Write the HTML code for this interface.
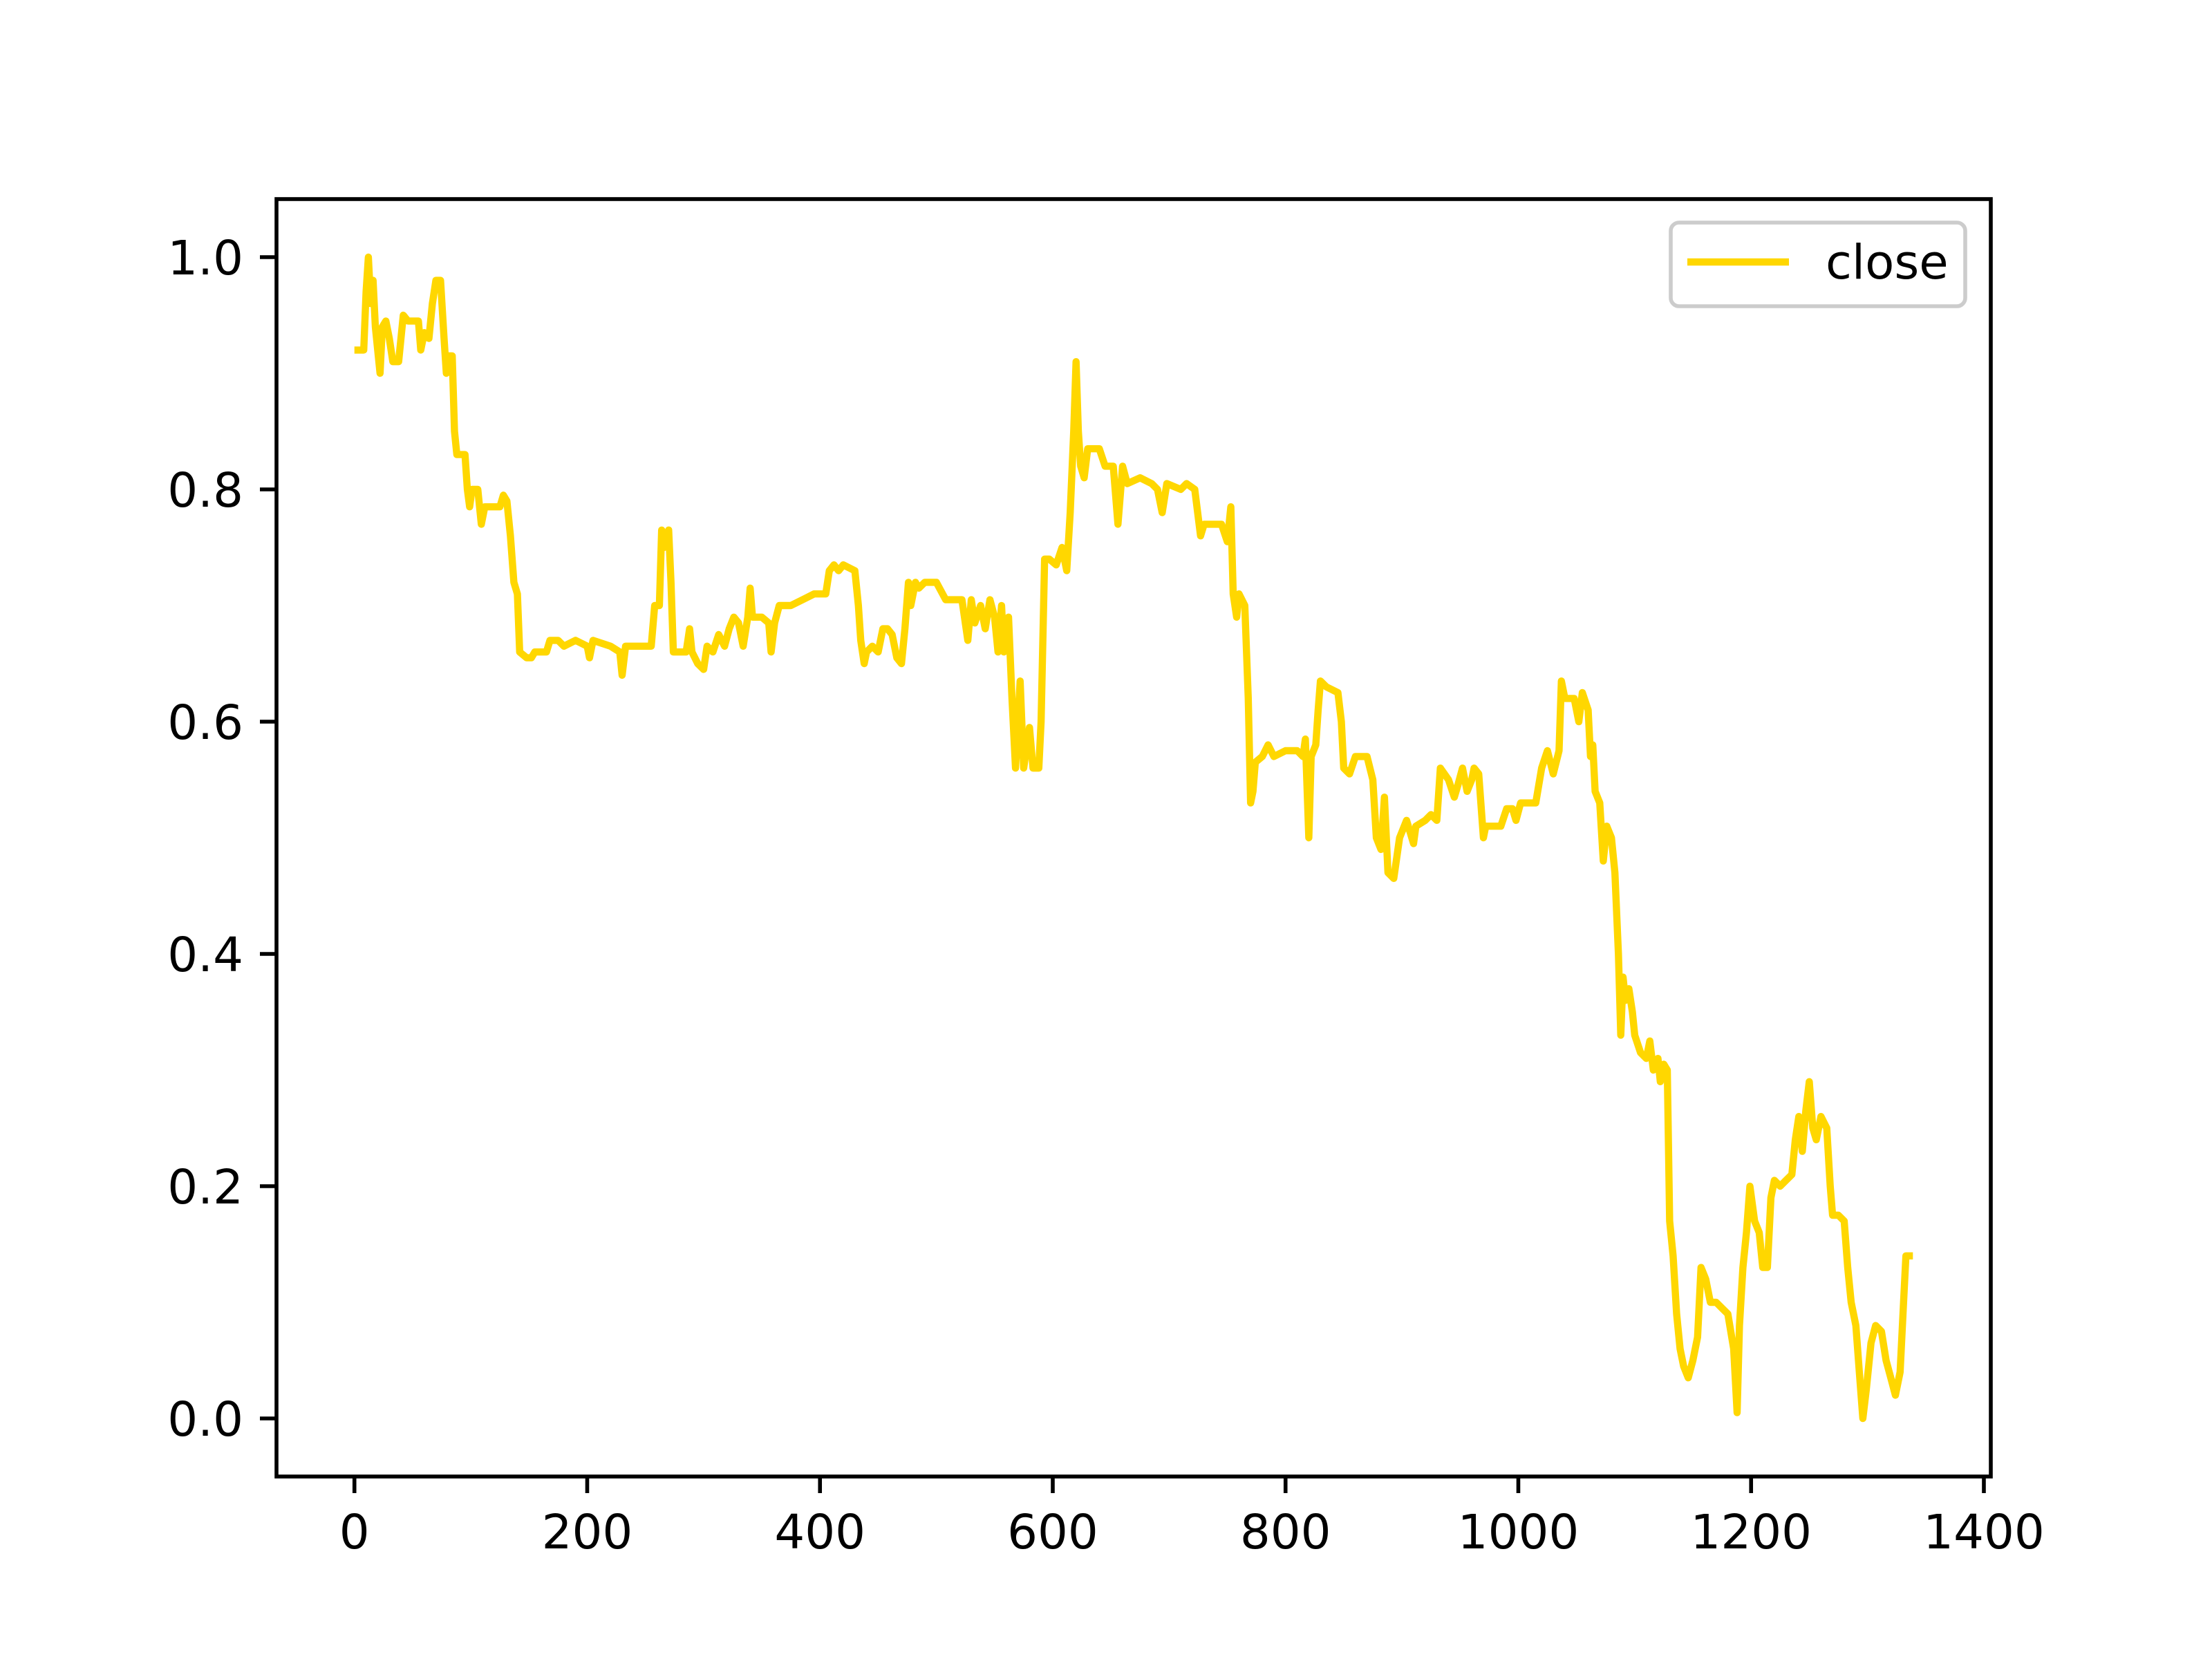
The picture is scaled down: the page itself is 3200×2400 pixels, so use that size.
<!DOCTYPE html>
<html><head><meta charset="utf-8"><style>
html,body{margin:0;padding:0;background:#fff;}
svg{display:block;font-family:"DejaVu Sans","Liberation Sans",sans-serif;}
</style></head><body>
<svg id="chart" width="3200" height="2400" viewBox="0 0 3200 2400" xmlns="http://www.w3.org/2000/svg">
<rect width="3200" height="2400" fill="#fff"/>
<g id="plot"></g>
<rect x="400" y="288" width="2480" height="1848" fill="none" stroke="#000" stroke-width="5.6"/>
<g id="xt"></g><g id="yt"></g>
<g>
<rect x="2417" y="322" width="426" height="121" rx="12" fill="#fff" fill-opacity="0.8" stroke="#ccc" stroke-width="5.6"/>
<line x1="2441" y1="379" x2="2588" y2="379" stroke="#FFD700" stroke-width="10.4"/>
<text x="2641" y="403" font-size="69">close</text>
</g>
</svg>
<script>
const xs=[0,8,10,12,14,16,18,22,24,27,30,33,38,42,46,55,57,60,64,67,70,74,77,79,81,84,86,88,95,97,99,101,106,109,112,125,128,131,134,137,140,142,148,152,155,160,165,168,175,180,190,200,202,205,220,228,230,233,250,255,258,262,264,266,270,272,274,280,285,288,290,295,300,303,308,313,318,322,326,330,334,338,340,342,350,356,358,361,365,375,385,395,405,408,412,416,420,430,433,435,438,440,445,450,454,458,462,466,470,473,476,478,482,485,490,500,508,515,522,527,530,533,538,542,546,550,553,556,558,562,565,568,572,575,580,583,588,590,593,597,603,608,612,615,618,620,622,624,627,630,640,645,652,656,660,664,675,685,690,694,698,710,715,722,727,730,745,750,753,755,758,760,765,768,770,772,774,780,785,790,800,810,815,817,820,822,826,828,830,835,845,848,850,855,860,870,875,878,882,885,888,893,898,904,910,912,920,925,930,933,940,945,948,952,956,960,962,966,970,972,985,990,995,998,1002,1015,1020,1025,1030,1035,1037,1040,1048,1052,1055,1060,1062,1064,1066,1070,1073,1076,1080,1083,1086,1088,1090,1092,1095,1098,1100,1105,1110,1113,1116,1120,1122,1125,1128,1130,1133,1136,1139,1142,1146,1150,1154,1157,1161,1165,1170,1175,1180,1185,1188,1190,1193,1196,1199,1203,1207,1210,1214,1217,1220,1225,1230,1235,1238,1241,1244,1247,1250,1253,1256,1260,1265,1268,1270,1275,1280,1283,1286,1290,1293,1296,1299,1303,1307,1312,1316,1320,1324,1328,1331,1333,1339];
const closeVals=[.92,.92,.97,1.0,.96,.98,.94,.90,.94,.945,.93,.91,.91,.95,.945,.945,.92,.935,.93,.96,.98,.98,.93,.90,.915,.915,.85,.83,.83,.80,.785,.80,.80,.77,.785,.785,.795,.79,.76,.72,.71,.66,.655,.655,.66,.66,.66,.67,.67,.665,.67,.665,.655,.67,.665,.66,.64,.665,.665,.665,.70,.70,.765,.75,.765,.72,.66,.66,.66,.68,.66,.65,.645,.665,.66,.675,.665,.68,.69,.685,.665,.69,.715,.69,.69,.685,.66,.685,.70,.70,.705,.71,.71,.73,.735,.73,.735,.73,.70,.67,.65,.66,.665,.66,.68,.68,.675,.655,.65,.68,.72,.70,.72,.715,.72,.72,.705,.705,.705,.67,.705,.685,.70,.68,.705,.69,.66,.70,.66,.69,.62,.56,.635,.56,.595,.56,.56,.60,.74,.74,.735,.75,.73,.78,.85,.91,.85,.82,.81,.835,.835,.82,.82,.77,.82,.805,.81,.805,.80,.78,.805,.80,.805,.80,.76,.77,.77,.755,.785,.71,.69,.71,.70,.62,.53,.54,.565,.57,.58,.57,.575,.575,.57,.585,.50,.57,.58,.61,.635,.63,.625,.60,.56,.555,.57,.57,.55,.50,.49,.535,.47,.465,.50,.515,.495,.51,.515,.52,.515,.56,.55,.535,.545,.56,.54,.55,.56,.555,.50,.51,.51,.525,.525,.515,.53,.53,.56,.575,.555,.575,.635,.62,.62,.60,.625,.61,.57,.58,.54,.53,.48,.51,.50,.47,.40,.33,.38,.36,.37,.35,.33,.315,.31,.325,.30,.31,.29,.305,.30,.17,.14,.09,.06,.045,.035,.05,.07,.13,.12,.10,.10,.095,.09,.06,.005,.08,.13,.16,.20,.17,.16,.13,.13,.19,.205,.20,.205,.21,.24,.26,.23,.265,.29,.25,.24,.26,.25,.20,.175,.175,.17,.13,.10,.08,.04,.00,.025,.065,.08,.075,.05,.035,.02,.04,.10,.14,.14];
const xTicks=[0,200,400,600,800,1000,1200,1400];
const yTicks=[0.0,0.2,0.4,0.6,0.8,1.0];
const yTickLabels=["0.0","0.2","0.4","0.6","0.8","1.0"];
const NS="http://www.w3.org/2000/svg";
const X=v=>400+(v+66.95)/(1405.95+66.95)*2480;
const Y=v=>2136-(v+0.05)/1.1*1848;
const plot=document.getElementById('plot');
const p=document.createElementNS(NS,'polyline');


p.setAttribute('points',xs.map((x,i)=>X(x).toFixed(1)+','+Y(closeVals[i]).toFixed(1)).join(' '));
p.setAttribute('fill','none');p.setAttribute('stroke','#FFD700');p.setAttribute('stroke-width','10.4');p.setAttribute('stroke-linejoin','round');
plot.appendChild(p);
const xt=document.getElementById('xt');
xTicks.forEach(t=>{
 const l=document.createElementNS(NS,'line');
 
 
 l.setAttribute('x1',X(t));l.setAttribute('x2',X(t));l.setAttribute('y1',2136);l.setAttribute('y2',2160);l.setAttribute('stroke','#000');l.setAttribute('stroke-width','5.6');xt.appendChild(l);
 const s=document.createElementNS(NS,'text');
 
 
 s.setAttribute('x',X(t));s.setAttribute('y',2240);s.setAttribute('font-size','69');s.setAttribute('text-anchor','middle');s.textContent=t;xt.appendChild(s);
});
const yt=document.getElementById('yt');
yTicks.forEach((t,i)=>{
 const l=document.createElementNS(NS,'line');
 
 
 l.setAttribute('x1',376);l.setAttribute('x2',400);l.setAttribute('y1',Y(t));l.setAttribute('y2',Y(t));l.setAttribute('stroke','#000');l.setAttribute('stroke-width','5.6');yt.appendChild(l);
 const s=document.createElementNS(NS,'text');
 
 
 s.setAttribute('x',352);s.setAttribute('y',Y(t)+25);s.setAttribute('font-size','69');s.setAttribute('text-anchor','end');s.textContent=yTickLabels[i];yt.appendChild(s);
});
</script>
</body></html>
